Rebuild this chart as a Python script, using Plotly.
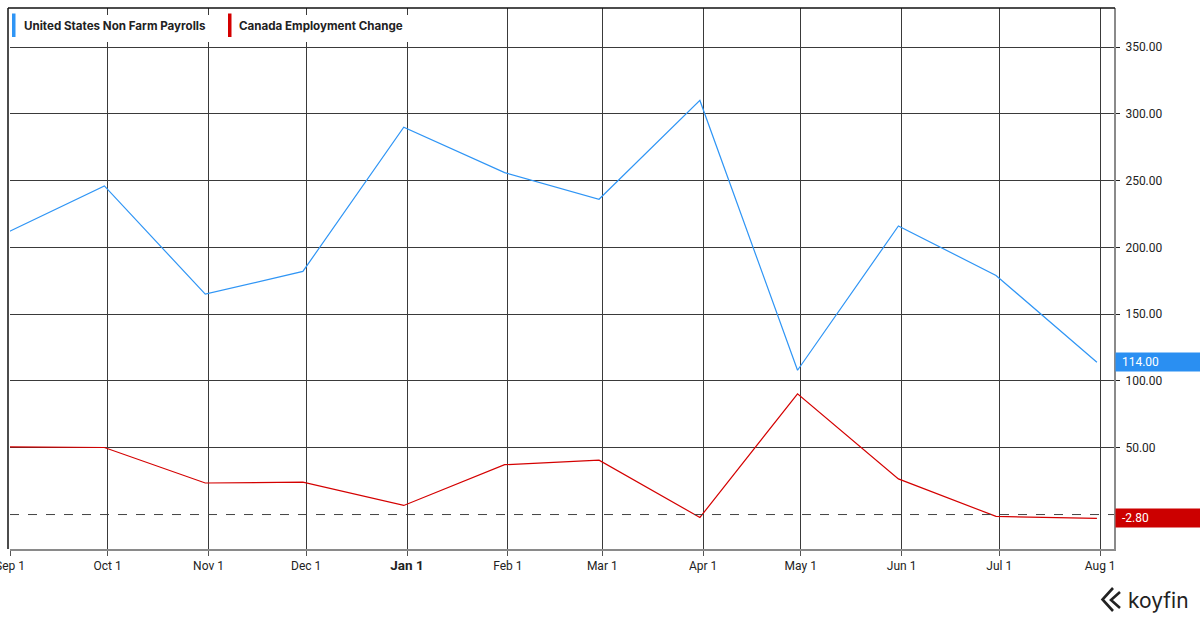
import plotly.graph_objects as go

# ---- data ----
dates = ["2023-08-31", "2023-09-30", "2023-10-31", "2023-11-30", "2023-12-31",
         "2024-01-31", "2024-02-29", "2024-03-31", "2024-04-30", "2024-05-31",
         "2024-06-30", "2024-07-31"]
us_nfp = [211, 246, 165, 182, 290, 256, 236, 310, 108, 216, 179, 114]
canada_emp = [50.7, 50.2, 23.6, 24.3, 6.8, 37.3, 40.7, -2.2, 90.4, 26.7, -1.4, -2.8]

tick_dates = ["2023-09-01", "2023-10-01", "2023-11-01", "2023-12-01", "2024-01-01",
              "2024-02-01", "2024-03-01", "2024-04-01", "2024-05-01", "2024-06-01",
              "2024-07-01", "2024-08-01"]
tick_labels = ["Sep 1", "Oct 1", "Nov 1", "Dec 1",
               "<span style='font-size:13.5px;font-weight:bold'>Jan 1</span>",
               "Feb 1", "Mar 1", "Apr 1", "May 1", "Jun 1", "Jul 1", "Aug 1"]
y_ticks = [50, 100, 150, 200, 250, 300, 350]

series_names = ["United States Non Farm Payrolls", "Canada Employment Change"]
BLUE = "#2f95f5"
RED = "#d40000"

W, H = 1200, 620
L, R, T, B = 10, 86, 8, 71
PW, PH = W - L - R, H - T - B


def px(x):
    return (x - L) / PW


def py(y):
    return 1 - (y - T) / PH


fig = go.Figure()
fig.add_trace(go.Scatter(x=dates, y=us_nfp, mode="lines", name=series_names[0],
                         line=dict(color=BLUE, width=1.2), showlegend=False))
fig.add_trace(go.Scatter(x=dates, y=canada_emp, mode="lines", name=series_names[1],
                         line=dict(color=RED, width=1.2), showlegend=False))

fig.update_layout(
    width=W, height=H,
    margin=dict(l=L, r=R, t=T, b=B, autoexpand=False),
    paper_bgcolor="white", plot_bgcolor="white",
    font=dict(family="Roboto, Arial, sans-serif", size=12, color="#222"),
    xaxis=dict(
        type="date", range=["2023-09-01", "2024-08-05 06:00"],
        tickvals=tick_dates, ticktext=tick_labels,
        showgrid=True, gridcolor="#3a3a3a", gridwidth=1,
        showline=True, linecolor="#8a8a8a", linewidth=2,
        ticks="outside", ticklen=5, tickcolor="#555",
        tickfont=dict(size=12, color="#222"), zeroline=False,
        ticklabeloverflow="allow", automargin=False,
    ),
    yaxis=dict(
        side="right", range=[-25.8, 379.2],
        tickvals=y_ticks, tickformat=".2f",
        showgrid=True, gridcolor="#3a3a3a", gridwidth=1,
        showline=True, linecolor="#8a8a8a", linewidth=2,
        ticks="outside", ticklen=4, tickcolor="#222",
        tickfont=dict(size=12, color="#222"), zeroline=False,
        automargin=False, ticklabelstandoff=3,
    ),
    showlegend=False,
)

shapes = []
# zero dashed line
shapes.append(dict(type="line", xref="paper", yref="y", x0=0, x1=1, y0=0, y1=0,
                   line=dict(color="#444", width=1, dash="dash")))
# top and left borders
shapes.append(dict(type="line", xref="paper", yref="paper", x0=px(8), x1=px(1115),
                   y0=py(8), y1=py(8), line=dict(color="#111", width=1.5)))
shapes.append(dict(type="line", xref="paper", yref="paper", x0=px(8), x1=px(8),
                   y0=py(8), y1=py(549), line=dict(color="#111", width=1.5)))
# legend background
shapes.append(dict(type="rect", xref="paper", yref="paper", x0=px(12), x1=px(408),
                   y0=py(15), y1=py(42), fillcolor="white", line=dict(width=0),
                   layer="above"))
# legend color bars
shapes.append(dict(type="rect", xref="paper", yref="paper", x0=px(12), x1=px(15.5),
                   y0=py(13.5), y1=py(37), fillcolor=BLUE, line=dict(width=0),
                   layer="above"))
shapes.append(dict(type="rect", xref="paper", yref="paper", x0=px(228), x1=px(231.5),
                   y0=py(13.5), y1=py(37), fillcolor=RED, line=dict(width=0),
                   layer="above"))
# koyfin icon
icon1 = f"M {px(1113)} {py(588)} L {px(1102.5)} {py(599.5)} L {px(1113)} {py(611)}"
icon2 = f"M {px(1120)} {py(592)} L {px(1111)} {py(600)} L {px(1120)} {py(608)}"
for p in (icon1, icon2):
    shapes.append(dict(type="path", xref="paper", yref="paper", path=p,
                       line=dict(color="#222", width=2.6), layer="above"))
fig.update_layout(shapes=shapes)

annotations = [
    dict(xref="paper", yref="paper", x=px(22), y=py(26), xanchor="left", yanchor="middle",
         text=f"<b>{series_names[0]}</b>", showarrow=False,
         font=dict(family="Inter, Roboto, sans-serif", size=11.6, color="#222")),
    dict(xref="paper", yref="paper", x=px(237), y=py(26), xanchor="left", yanchor="middle",
         text=f"<b>{series_names[1]}</b>", showarrow=False,
         font=dict(family="Inter, Roboto, sans-serif", size=11.6, color="#222")),
    dict(xref="paper", yref="y", x=px(1115), y=us_nfp[-1], xanchor="left", yanchor="middle",
         text=f"&nbsp;{us_nfp[-1]:.2f}", showarrow=False, align="left",
         bgcolor="#2a8ff2", width=79, height=12, borderpad=3,
         font=dict(size=12, color="white")),
    dict(xref="paper", yref="y", x=px(1115), y=canada_emp[-1], xanchor="left", yanchor="middle",
         text=f"&nbsp;{canada_emp[-1]:.2f}", showarrow=False, align="left",
         bgcolor="#cc0000", width=79, height=12, borderpad=3,
         font=dict(size=12, color="white")),
    dict(xref="paper", yref="paper", x=px(1126), y=py(600), xanchor="left", yanchor="middle",
         text="koyfin", showarrow=False,
         font=dict(family="Inter, Roboto, sans-serif", size=21, color="#222")),
]
fig.update_layout(annotations=annotations)

fig.write_html("out.html", config={"displayModeBar": False},
               post_script="document.body.style.margin='0';document.body.style.overflow='hidden';")
